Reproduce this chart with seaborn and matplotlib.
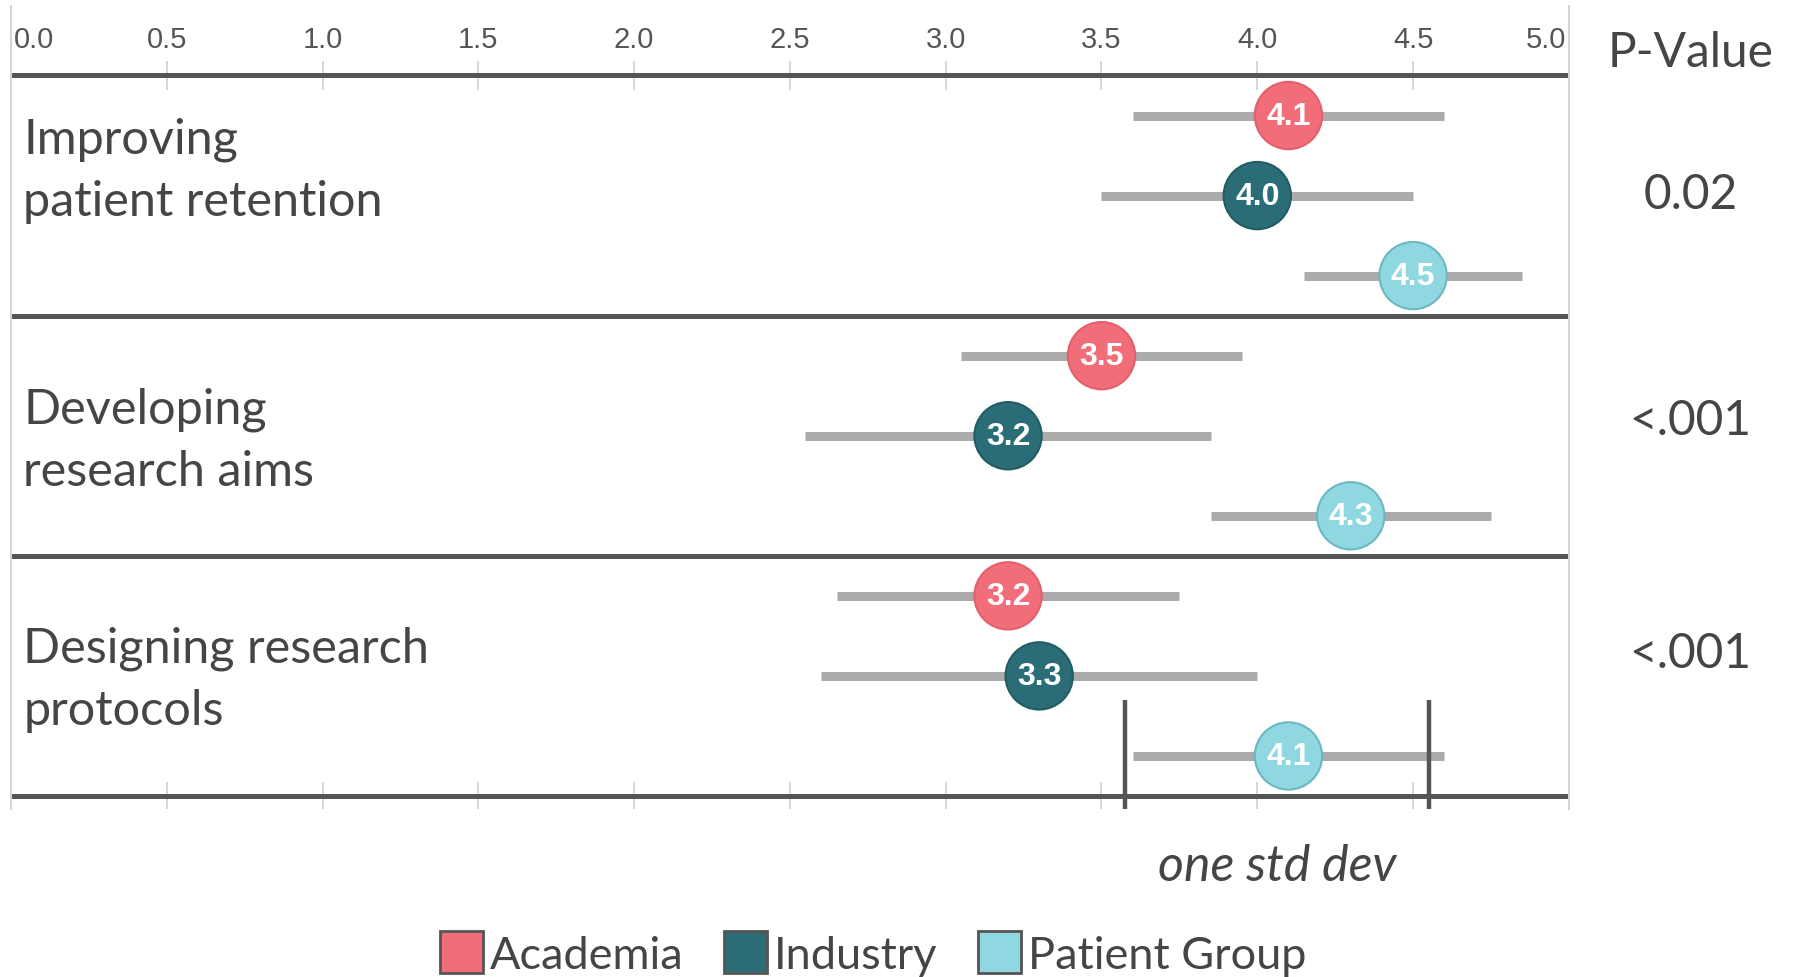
import numpy as np
import pandas as pd
import matplotlib
matplotlib.use("Agg")
import matplotlib.pyplot as plt
from matplotlib.patches import Patch
import seaborn as sns

# ---- data -------------------------------------------------------------
tasks = ["Improving\npatient retention", "Developing\nresearch aims",
         "Designing research\nprotocols"]
groups = ["Academia", "Industry", "Patient Group"]
academia_mean = [4.1, 3.5, 3.2]
industry_mean = [4.0, 3.2, 3.3]
patient_mean = [4.5, 4.3, 4.1]
academia_sd = [0.5, 0.45, 0.55]
industry_sd = [0.5, 0.65, 0.7]
patient_sd = [0.35, 0.45, 0.5]
p_values = ["0.02", "<.001", "<.001"]
x_ticks = [0.0, 0.5, 1.0, 1.5, 2.0, 2.5, 3.0, 3.5, 4.0, 4.5, 5.0]

# ---- styling ----------------------------------------------------------
fill = {"Academia": "#F06D79", "Industry": "#2A6D76", "Patient Group": "#8FD8E2"}
edge = {"Academia": "#E2606C", "Industry": "#225C64", "Patient Group": "#6DB7C2"}
TEXT = "#454545"
LINE = "#555555"
BAR = "#ABABAB"
label_dy = [-0.32, 0.05, 0.04]     # vertical nudge of the row titles
pval_dy = [-0.02, -0.2, -0.28]     # vertical nudge of the p-values
bracket_dx = (-0.025, -0.05)       # bracket ticks sit just inside the bar ends

rows = []
for gi, (g, m, s) in enumerate(zip(groups,
                                   [academia_mean, industry_mean, patient_mean],
                                   [academia_sd, industry_sd, patient_sd])):
    for ti in range(len(tasks)):
        rows.append({"task": ti, "group": g, "mean": m[ti], "sd": s[ti],
                     "pos": ti * 3 + gi})
df = pd.DataFrame(rows).sort_values("pos").reset_index(drop=True)

sns.set_style("white")
plt.rcParams["font.family"] = ["Lato", "DejaVu Sans"]

fig = plt.figure(figsize=(17.93, 9.78), dpi=100)
ax = fig.add_axes([0.0061, 0.172, 0.875 - 0.0061, 0.993 - 0.172])
ax.set_xlim(0, 5)
ax.set_ylim(8.66, -1.37)

# std-dev bars
ax.hlines(df["pos"], df["mean"] - df["sd"], df["mean"] + df["sd"],
          color=BAR, lw=6.5, zorder=2)

# mean markers
sns.scatterplot(data=df, x="mean", y="pos", hue="group", palette=fill,
                hue_order=groups, s=2350, linewidth=1.5, legend=False,
                zorder=3, ax=ax)
coll = ax.collections[-1]
coll.set_edgecolor([edge[g] for g in df["group"]])

for _, r in df.iterrows():
    ax.text(r["mean"], r["pos"], f"{r['mean']:.1f}", ha="center", va="center",
            color="white", fontsize=23, fontweight="bold",
            family=["Liberation Sans Narrow", "Liberation Sans", "DejaVu Sans"],
            zorder=4)

# separators between task blocks
n_tasks = len(tasks)
for k in range(n_tasks + 1):
    ax.axhline(k * 3 - 0.5, color=LINE, lw=3.6, zorder=1)

# small tick marks across the top and bottom rules
ax.vlines(x_ticks, -0.68, -0.32, color="#cfcfcf", lw=1.2, zorder=0)
ax.vlines(x_ticks, n_tasks * 3 - 0.68, 8.66, color="#cfcfcf", lw=1.2, zorder=0)

# scale labels along the top
for i, t in enumerate(x_ticks):
    ha = "left" if i == 0 else ("right" if i == len(x_ticks) - 1 else "center")
    xo = 0.01 if i == 0 else (-0.01 if i == len(x_ticks) - 1 else 0)
    ax.text(t + xo, -0.96, f"{t:.1f}", ha=ha, va="center", fontsize=21,
            color="#555555",
            family=["Liberation Sans Narrow", "Liberation Sans", "DejaVu Sans"])

# task titles
for ti, name in enumerate(tasks):
    ax.text(0.04, ti * 3 + 1 + label_dy[ti], name, ha="left", va="center",
            fontsize=35, color=TEXT, linespacing=1.5)

# p-values to the right of the frame
ax.text(5.39, -0.79, "P-Value", ha="center", va="center", fontsize=34.5,
        color=TEXT, clip_on=False)
for ti, p in enumerate(p_values):
    ax.text(5.39, ti * 3 + 1 + pval_dy[ti], p, ha="center", va="center",
            fontsize=34.5, color=TEXT, clip_on=False)

# "one std dev" bracket on the last patient-group bar
ref = df[(df["task"] == n_tasks - 1) & (df["group"] == "Patient Group")].iloc[0]
lo = ref["mean"] - ref["sd"] + bracket_dx[0]
hi = ref["mean"] + ref["sd"] + bracket_dx[1]
ax.vlines([lo, hi], ref["pos"] - 0.7, 8.66, color=LINE, lw=3.2, zorder=5)
ax.text((lo + hi) / 2, 9.37, "one std dev", ha="center", va="center",
        fontsize=36, style="italic", color=TEXT, clip_on=False)

# frame
for side in ["top", "bottom"]:
    ax.spines[side].set_visible(False)
for side in ["left", "right"]:
    ax.spines[side].set_color("#d5d5d5")
    ax.spines[side].set_linewidth(1.5)
ax.set_xticks([])
ax.set_yticks([])
ax.set_xlabel("")
ax.set_ylabel("")

handles = [Patch(facecolor=fill[g], edgecolor="#555555", linewidth=2, label=g)
           for g in groups]
fig.legend(handles=handles, loc="center", bbox_to_anchor=(0.487, 0.024),
           ncol=3, frameon=False, fontsize=32.5, handlelength=0.95,
           handleheight=1.05, handletextpad=0.15, columnspacing=0.9,
           labelcolor=TEXT)

fig.savefig("out.png", dpi=100, facecolor="white")
